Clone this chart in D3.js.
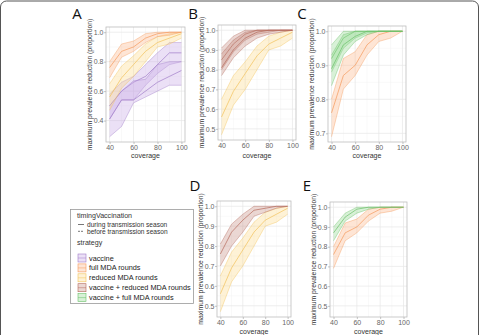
<!DOCTYPE html>
<html>
<head>
<meta charset="utf-8">
<script src="https://cdn.jsdelivr.net/npm/d3@7"></script>
<style>
  body { margin: 0; background: #fff; }
  svg { display: block; font-family: "Liberation Sans", Arial, sans-serif; }
</style>
</head>
<body>
<svg id="fig" width="479" height="335"></svg>
<script>
// ---- data ----
const coverage = [40, 50, 60, 70, 80, 90, 100];

const vaccineDuringHi  = [0.58, 0.66, 0.70, 0.78, 0.86, 0.93, 0.93];
const vaccineDuringMid = [0.50, 0.60, 0.66, 0.70, 0.78, 0.86, 0.86];
const vaccineDuringLo  = [0.41, 0.54, 0.54, 0.64, 0.72, 0.78, 0.80];
const vaccineBeforeHi  = [0.50, 0.60, 0.67, 0.68, 0.78, 0.80, 0.80];
const vaccineBeforeMid = [0.41, 0.54, 0.54, 0.60, 0.66, 0.70, 0.74];
const vaccineBeforeLo  = [0.29, 0.36, 0.52, 0.56, 0.60, 0.64, 0.64];

const fullHi  = [0.80, 0.92, 0.94, 0.99, 1.00, 1.00, 1.00];
const fullMid = [0.76, 0.87, 0.90, 0.96, 0.99, 1.00, 1.00];
const fullLo  = [0.69, 0.83, 0.87, 0.93, 0.97, 0.98, 1.00];

const reducedHi  = [0.65, 0.77, 0.84, 0.92, 0.97, 0.99, 1.00];
const reducedMid = [0.56, 0.69, 0.78, 0.87, 0.93, 0.96, 0.99];
const reducedLo  = [0.47, 0.62, 0.70, 0.80, 0.90, 0.92, 0.96];

const vacReducedDuringHi  = [0.91, 0.97, 1.00, 1.00, 1.00, 1.00, 1.00];
const vacReducedDuringMid = [0.85, 0.93, 0.98, 1.00, 1.00, 1.00, 1.00];
const vacReducedDuringLo  = [0.80, 0.89, 0.95, 0.98, 0.99, 1.00, 1.00];
const vacReducedBeforeHi  = [0.88, 0.95, 0.99, 1.00, 1.00, 1.00, 1.00];
const vacReducedBeforeMid = [0.81, 0.90, 0.96, 0.99, 1.00, 1.00, 1.00];
const vacReducedBeforeLo  = [0.77, 0.86, 0.92, 0.96, 0.98, 0.99, 1.00];

const vacFullDuringHi  = [0.96, 1.00, 1.00, 1.00, 1.00, 1.00, 1.00];
const vacFullDuringMid = [0.92, 0.98, 1.00, 1.00, 1.00, 1.00, 1.00];
const vacFullDuringLo  = [0.88, 0.95, 0.98, 0.995, 1.00, 1.00, 1.00];
const vacFullBeforeHi  = [0.93, 0.99, 1.00, 1.00, 1.00, 1.00, 1.00];
const vacFullBeforeMid = [0.89, 0.96, 0.985, 1.00, 1.00, 1.00, 1.00];
const vacFullBeforeLo  = [0.84, 0.93, 0.97, 0.99, 1.00, 1.00, 1.00];

// panels D and E (single timing)
const vacReducedHi  = [0.81, 0.91, 0.96, 1.00, 1.00, 1.00, 1.00];
const vacReducedMid = [0.76, 0.87, 0.93, 0.98, 0.99, 1.00, 1.00];
const vacReducedLo  = [0.70, 0.80, 0.87, 0.95, 0.97, 0.99, 1.00];
const vacFullHi  = [0.90, 0.97, 1.00, 1.00, 1.00, 1.00, 1.00];
const vacFullMid = [0.87, 0.95, 0.99, 1.00, 1.00, 1.00, 1.00];
const vacFullLo  = [0.83, 0.93, 0.97, 0.99, 1.00, 1.00, 1.00];

const xTicks = [40, 60, 80, 100];
const strategies = ["vaccine", "full MDA rounds", "reduced MDA rounds",
                    "vaccine + reduced MDA rounds", "vaccine + full MDA rounds"];
const timings = ["during transmission season", "before transmission season"];

// colours per strategy: [line, fill]
const colours = {
  "vaccine": ["#a07cc8", "#c6a6e6"],
  "full MDA rounds": ["#f59a5c", "#fbb487"],
  "reduced MDA rounds": ["#f2c25a", "#fcd98a"],
  "vaccine + reduced MDA rounds": ["#b56a5c", "#c78c80"],
  "vaccine + full MDA rounds": ["#6cc06a", "#90d88c"]
};

const svg = d3.select('#fig');

// figure frame
svg.append('rect')
  .attr('x', 0.5).attr('y', 1).attr('width', 478).attr('height', 400)
  .attr('rx', 6).attr('fill', 'none').attr('stroke', '#555').attr('stroke-width', 1);

function band(strategy, hi, mid, lo) {
  return {strategy: strategy, hi: hi, mid: mid, lo: lo};
}

const panels = [
  {letter: 'A', lx: 77, ly: 19, x0: 106, x1: 185, y0: 27, y1: 142, cy: 157.5, yTicks: [0.4, 0.6, 0.8, 1.0],
   series: [band("vaccine", vaccineDuringHi, vaccineDuringMid, vaccineDuringLo),
            band("vaccine", vaccineBeforeHi, vaccineBeforeMid, vaccineBeforeLo),
            band("reduced MDA rounds", reducedHi, reducedMid, reducedLo),
            band("full MDA rounds", fullHi, fullMid, fullLo)]},
  {letter: 'B', lx: 193, ly: 19, x0: 218, x1: 296, y0: 25, y1: 140, cy: 157.5, yTicks: [0.5, 0.6, 0.7, 0.8, 0.9, 1.0],
   series: [band("reduced MDA rounds", reducedHi, reducedMid, reducedLo),
            band("vaccine + reduced MDA rounds", vacReducedDuringHi, vacReducedDuringMid, vacReducedDuringLo),
            band("vaccine + reduced MDA rounds", vacReducedBeforeHi, vacReducedBeforeMid, vacReducedBeforeLo)]},
  {letter: 'C', lx: 302, ly: 19, x0: 328, x1: 406, y0: 26, y1: 142, cy: 157.5, yTicks: [0.7, 0.8, 0.9, 1.0],
   series: [band("full MDA rounds", fullHi, fullMid, fullLo),
            band("vaccine + full MDA rounds", vacFullDuringHi, vacFullDuringMid, vacFullDuringLo),
            band("vaccine + full MDA rounds", vacFullBeforeHi, vacFullBeforeMid, vacFullBeforeLo)]},
  {letter: 'D', lx: 195, ly: 191, x0: 217, x1: 291, y0: 201, y1: 317, cy: 333.5, yTicks: [0.5, 0.6, 0.7, 0.8, 0.9, 1.0],
   series: [band("reduced MDA rounds", reducedHi, reducedMid, reducedLo),
            band("vaccine + reduced MDA rounds", vacReducedHi, vacReducedMid, vacReducedLo)]},
  {letter: 'E', lx: 307, ly: 191, x0: 330, x1: 407, y0: 202, y1: 317, cy: 333.5, yTicks: [0.5, 0.6, 0.7, 0.8, 0.9, 1.0],
   yMin: 0.47,
   series: [band("full MDA rounds", fullHi, fullMid, fullLo),
            band("vaccine + full MDA rounds", vacFullHi, vacFullMid, vacFullLo)]}
];

panels.forEach(function(p) {
  var g = svg.append('g');
  var ymin = p.yMin !== undefined ? p.yMin : d3.min(p.series, function(s) { return d3.min(s.lo); });
  var pad = 0.05 * (1 - ymin);
  var x = d3.scaleLinear().domain([37, 103]).range([p.x0, p.x1]);
  var y = d3.scaleLinear().domain([ymin - pad, 1 + pad]).range([p.y1, p.y0]);

  // grid (minor then major)
  var yMinor = p.yTicks.slice(1).map(function(t, i) { return (t + p.yTicks[i]) / 2; });
  g.selectAll('line.ymin').data(yMinor).enter().append('line')
    .attr('x1', p.x0).attr('x2', p.x1).attr('y1', y).attr('y2', y)
    .attr('stroke', '#f2f2f2').attr('stroke-width', 0.5);
  g.selectAll('line.xmin').data([50, 70, 90]).enter().append('line')
    .attr('y1', p.y0).attr('y2', p.y1).attr('x1', x).attr('x2', x)
    .attr('stroke', '#f2f2f2').attr('stroke-width', 0.5);
  g.selectAll('line.ymaj').data(p.yTicks).enter().append('line')
    .attr('x1', p.x0).attr('x2', p.x1).attr('y1', y).attr('y2', y)
    .attr('stroke', '#e6e6e6').attr('stroke-width', 0.7);
  g.selectAll('line.xmaj').data(xTicks).enter().append('line')
    .attr('y1', p.y0).attr('y2', p.y1).attr('x1', x).attr('x2', x)
    .attr('stroke', '#e6e6e6').attr('stroke-width', 0.7);

  var area = d3.area()
    .x(function(d, i) { return x(coverage[i]); })
    .y0(function(d) { return y(d[0]); })
    .y1(function(d) { return y(d[1]); });
  var line = d3.line()
    .x(function(d, i) { return x(coverage[i]); })
    .y(function(d) { return y(d); });

  p.series.forEach(function(s) {
    var c = colours[s.strategy];
    g.append('path')
      .attr('d', area(s.lo.map(function(v, i) { return [v, s.hi[i]]; })))
      .attr('fill', c[1]).attr('fill-opacity', 0.35);
    [s.hi, s.lo].forEach(function(arr) {
      g.append('path').attr('d', line(arr))
        .attr('fill', 'none').attr('stroke', c[0]).attr('stroke-width', 0.5).attr('stroke-opacity', 0.8);
    });
    g.append('path').attr('d', line(s.mid))
      .attr('fill', 'none').attr('stroke', c[0]).attr('stroke-width', 0.7);
  });

  // panel border
  g.append('rect')
    .attr('x', p.x0).attr('y', p.y0).attr('width', p.x1 - p.x0).attr('height', p.y1 - p.y0)
    .attr('fill', 'none').attr('stroke', '#bdbdbd').attr('stroke-width', 0.8);

  // axes
  var xAxis = g.append('g').attr('transform', 'translate(0,' + p.y1 + ')')
    .call(d3.axisBottom(x).tickValues(xTicks).tickSize(2).tickPadding(1));
  var yAxis = g.append('g').attr('transform', 'translate(' + p.x0 + ',0)')
    .call(d3.axisLeft(y).tickValues(p.yTicks).tickFormat(d3.format('.1f')).tickSize(2).tickPadding(0.5));
  [xAxis, yAxis].forEach(function(a) {
    a.select('.domain').remove();
    a.selectAll('line').attr('stroke', '#aaa').attr('stroke-width', 0.7);
    a.selectAll('text').attr('fill', '#666').attr('font-size', 7)
      .attr('font-family', '"Liberation Sans", Arial, sans-serif');
  });

  g.append('text')
    .attr('x', (p.x0 + p.x1) / 2).attr('y', p.cy)
    .attr('text-anchor', 'middle').attr('font-size', 7).attr('fill', '#333')
    .text('coverage');
  g.append('text')
    .attr('transform', 'translate(' + (p.x0 - 14.5) + ',' + ((p.y0 + p.y1) / 2) + ') rotate(-90)')
    .attr('text-anchor', 'middle').attr('font-size', 6.8).attr('fill', '#333')
    .text('maximum prevalence reduction (proportion)');

  g.append('text')
    .attr('x', p.lx).attr('y', p.ly).attr('text-anchor', 'middle')
    .attr('font-size', 15).attr('fill', '#111')
    .attr('font-family', '"Open Sans", "Liberation Sans", sans-serif')
    .text(p.letter);
});

// ---- legend ----
var leg = svg.append('g');
leg.append('rect')
  .attr('x', 70.5).attr('y', 209.5).attr('width', 123).attr('height', 94)
  .attr('fill', '#fff').attr('stroke', '#9a9a9a').attr('stroke-width', 0.8);
leg.append('text').attr('x', 77).attr('y', 218).attr('font-size', 7.1).attr('fill', '#333')
  .text('timingVaccination');

leg.selectAll('g.timing').data(timings).enter().append('g').attr('class', 'timing')
  .each(function(d, i) {
    var gg = d3.select(this);
    var yy = 224.5 + i * 6.8;
    gg.append('line').attr('x1', 78).attr('x2', 84).attr('y1', yy).attr('y2', yy)
      .attr('stroke', '#777').attr('stroke-width', 1)
      .attr('stroke-dasharray', i === 1 ? '2,1' : null);
    gg.append('text').attr('x', 87).attr('y', yy + 2.3).attr('font-size', 6.6).attr('fill', '#333')
      .text(d);
  });

leg.append('text').attr('x', 77).attr('y', 245).attr('font-size', 7.1).attr('fill', '#333')
  .text('strategy');

leg.selectAll('g.strat').data(strategies).enter().append('g').attr('class', 'strat')
  .each(function(d, i) {
    var gg = d3.select(this);
    var yy = 258 + i * 9.9;
    var c = colours[d];
    gg.append('rect').attr('x', 78).attr('y', yy - 4).attr('width', 8).attr('height', 8)
      .attr('fill', c[1]).attr('fill-opacity', 0.35).attr('stroke', c[0]).attr('stroke-width', 0.6);
    gg.append('line').attr('x1', 78).attr('x2', 86).attr('y1', yy).attr('y2', yy)
      .attr('stroke', c[0]).attr('stroke-width', 0.5);
    gg.append('text').attr('x', 89).attr('y', yy + 2.5).attr('font-size', 7.3).attr('fill', '#222')
      .text(d);
  });
</script>
</body>
</html>
